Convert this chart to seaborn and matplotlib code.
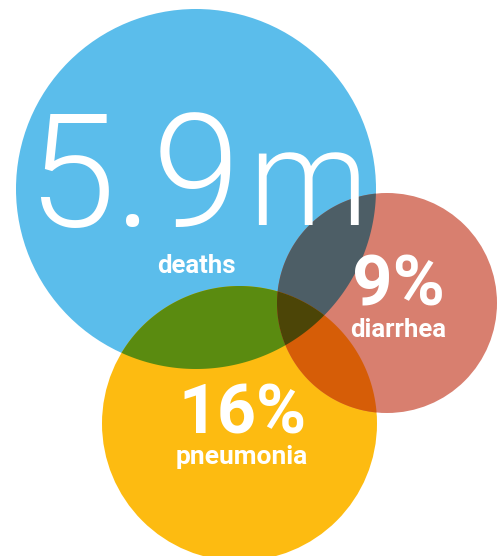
import matplotlib

matplotlib.use("Agg")
import matplotlib.pyplot as plt
import numpy as np
import seaborn as sns
from matplotlib.colors import to_rgb
from matplotlib.patches import Circle, Polygon

# circles: deaths (blue), pneumonia (yellow), diarrhea (red)
names = ["deaths", "pneumonia", "diarrhea"]
centers_x = [196, 239.5, 387]
centers_y = [189, 423.5, 303]
radii = [180, 137.5, 110]
colors = ["#5bbdeb", "#fdbb11", "#d87f6f"]

big_values = ["16%", "9%"]
big_labels = ["pneumonia", "diarrhea"]

sns.set_style("white")
plt.rcParams["font.family"] = ["Roboto", "DejaVu Sans"]

fig = plt.figure(figsize=(5.03, 5.56), dpi=100)
ax = fig.add_axes([0, 0, 1, 1])
ax.set_xlim(0, 503)
ax.set_ylim(556, 0)
ax.set_aspect("equal")
ax.axis("off")


def circle_points(i, n=720):
    t = np.linspace(0, 2 * np.pi, n, endpoint=False)
    return np.column_stack(
        [centers_x[i] + radii[i] * np.cos(t), centers_y[i] + radii[i] * np.sin(t)]
    )


def inside(pts, j):
    d = np.hypot(pts[:, 0] - centers_x[j], pts[:, 1] - centers_y[j])
    return d <= radii[j]


def overlap_polygon(idx):
    # intersection of circles is convex: collect boundary points and sort by angle
    pts = []
    for i in idx:
        p = circle_points(i)
        keep = np.ones(len(p), bool)
        for j in idx:
            if j != i:
                keep &= inside(p, j)
        pts.append(p[keep])
    pts = np.vstack(pts)
    c = pts.mean(axis=0)
    order = np.argsort(np.arctan2(pts[:, 1] - c[1], pts[:, 0] - c[0]))
    return pts[order]


def multiply(idx):
    rgb = np.ones(3)
    for i in idx:
        rgb *= np.array(to_rgb(colors[i]))
    return rgb


for i in range(3):
    ax.add_patch(Circle((centers_x[i], centers_y[i]), radii[i], color=colors[i], lw=0))

for idx in [(0, 1), (0, 2), (1, 2), (0, 1, 2)]:
    ax.add_patch(Polygon(overlap_polygon(idx), closed=True, color=multiply(idx), lw=0))

# deaths label
ax.text(240, 226, "5.9", color="white", fontsize=114, fontweight=300,
        ha="right", va="baseline")
ax.text(248, 225, "m", color="white", fontsize=97, fontweight=300,
        ha="left", va="baseline")
ax.text(196.5, 273, names[0], color="white", fontsize=18.5, fontweight="bold",
        ha="center", va="baseline")

# pneumonia and diarrhea labels
ax.text(242.5, 434, big_values[0], color="white", fontsize=49, fontweight="bold",
        ha="center", va="baseline")
ax.text(241.5, 464, big_labels[0], color="white", fontsize=19, fontweight="bold",
        ha="center", va="baseline")
ax.text(398, 305, big_values[1], color="white", fontsize=51, fontweight="bold",
        ha="center", va="baseline")
ax.text(398, 337, big_labels[1], color="white", fontsize=18.5, fontweight="bold",
        ha="center", va="baseline")

fig.savefig("out.png", dpi=100)
